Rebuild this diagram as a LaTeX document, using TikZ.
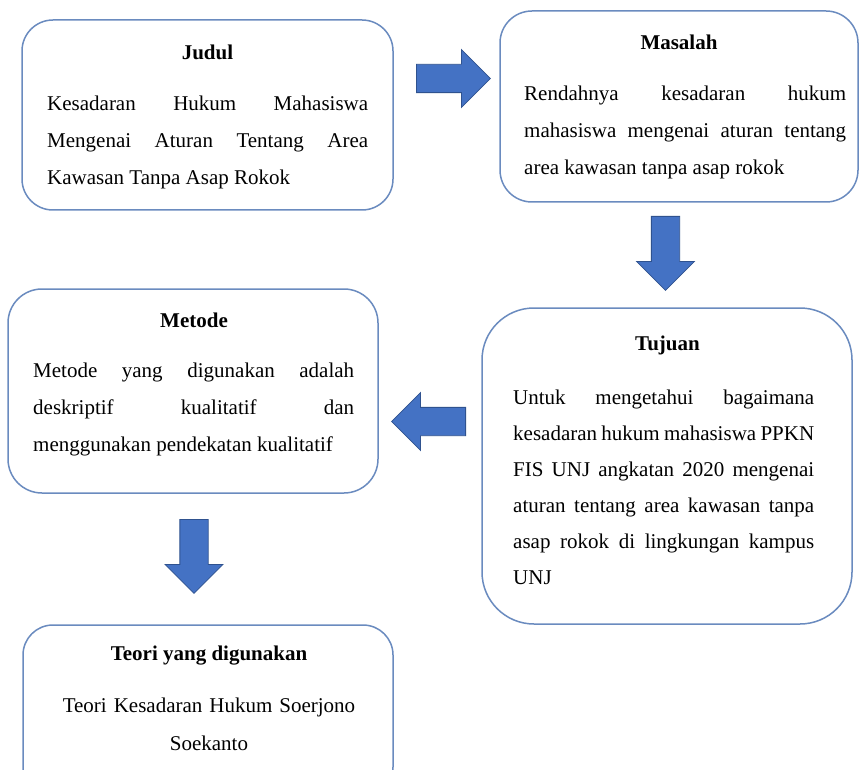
\documentclass[tikz,border=0pt]{standalone}
\usepackage{fontspec}
\setmainfont{Liberation Serif}
\usetikzlibrary{shapes.arrows}
\definecolor{boxline}{HTML}{6A8BBF}
\definecolor{arrowfill}{HTML}{4472C4}
\definecolor{arrowline}{HTML}{2F528F}
\tolerance=10000
\hyphenpenalty=10000
\tikzset{box/.style={draw=boxline, line width=1.5pt, fill=white, rounded corners=#1},
    boxtitle/.style={anchor=base, inner sep=0pt, font=\fontsize{21}{37}\selectfont\bfseries},
    boxtext/.style={anchor=base west, inner sep=0pt, text width=#1, align=justify,
        font=\fontsize{21}{37}\selectfont},
    blockarrow/.style={single arrow, draw=arrowline, fill=arrowfill, line width=0.8pt,
        inner xsep=0pt, inner ysep=13.75pt, minimum height=74pt, minimum width=57pt,
        single arrow head extend=14.75pt, anchor=tail, rotate=#1}}

\begin{document}
\begin{tikzpicture}[x = 1pt, y = -1pt]
        \useasboundingbox (0, 0) rectangle (859, 770);
        \clip (0, 0) rectangle (859, 770);
        \fill[white] (0, 0) rectangle (859, 770);
        % boxes
        \node[box = 31pt, minimum width = 371pt, minimum height = 190pt] (judul) at (207.5, 115) {};
        \node[box = 32pt, minimum width = 358pt, minimum height = 191pt] (masalah) at (679, 106.5) {};
        \node[box = 34pt, minimum width = 370pt, minimum height = 204pt] (metode) at (193, 391) {};
        \node[box = 52pt, minimum width = 370pt, minimum height = 316pt] (tujuan) at (667, 466) {};
        \node[box = 30pt, minimum width = 370pt, minimum height = 172pt] (teori) at (208, 711) {};
        % texts
        \node[boxtitle] (judulT) at (207.5, 59.5) {Judul};
        \node[boxtext = 321pt] (judulB) at (47, 110.5) {Kesadaran Hukum Mahasiswa\linebreak
            Mengenai Aturan Tentang Area\linebreak Kawasan Tanpa Asap Rokok};
        \node[boxtitle] (masalahT) at (679, 49.5) {Masalah};
        \node[boxtext = 322pt] (masalahB) at (524, 100.5) {Rendahnya kesadaran hukum\linebreak
            mahasiswa mengenai aturan tentang\linebreak area kawasan tanpa asap rokok};
        \node[boxtitle] (metodeT) at (194, 327.5) {Metode};
        \node[boxtext = 321pt] (metodeB) at (33, 377.5) {Metode yang digunakan adalah\linebreak
            deskriptif kualitatif dan\linebreak menggunakan pendekatan kualitatif};
        \node[boxtitle] (tujuanT) at (667.5, 350.5) {Tujuan};
        \node[boxtext = 301pt, font = \fontsize{21}{36}\selectfont] (tujuanB) at (513, 404.5)
            {Untuk mengetahui bagaimana\linebreak kesadaran hukum mahasiswa PPKN\linebreak
            FIS UNJ angkatan 2020 mengenai\linebreak aturan tentang area kawasan tanpa\linebreak
            asap rokok di lingkungan kampus\linebreak UNJ};
        \node[boxtitle] (teoriT) at (209, 660) {Teori yang digunakan};
        \node[anchor = base, inner sep = 0pt, text width = 340pt, align = center,
            font = \fontsize{21}{38}\selectfont] (teoriB) at (209, 712)
            {Teori Kesadaran Hukum Soerjono\\ Soekanto};
        % arrows
        \node[blockarrow = 0] (arrA) at (416, 78.5) {};
        \node[blockarrow = -90] (arrB) at (665.5, 216) {};
        \node[blockarrow = 180] (arrC) at (466, 421.5) {};
        \node[blockarrow = -90] (arrD) at (194, 519) {};
\end{tikzpicture}
\end{document}
